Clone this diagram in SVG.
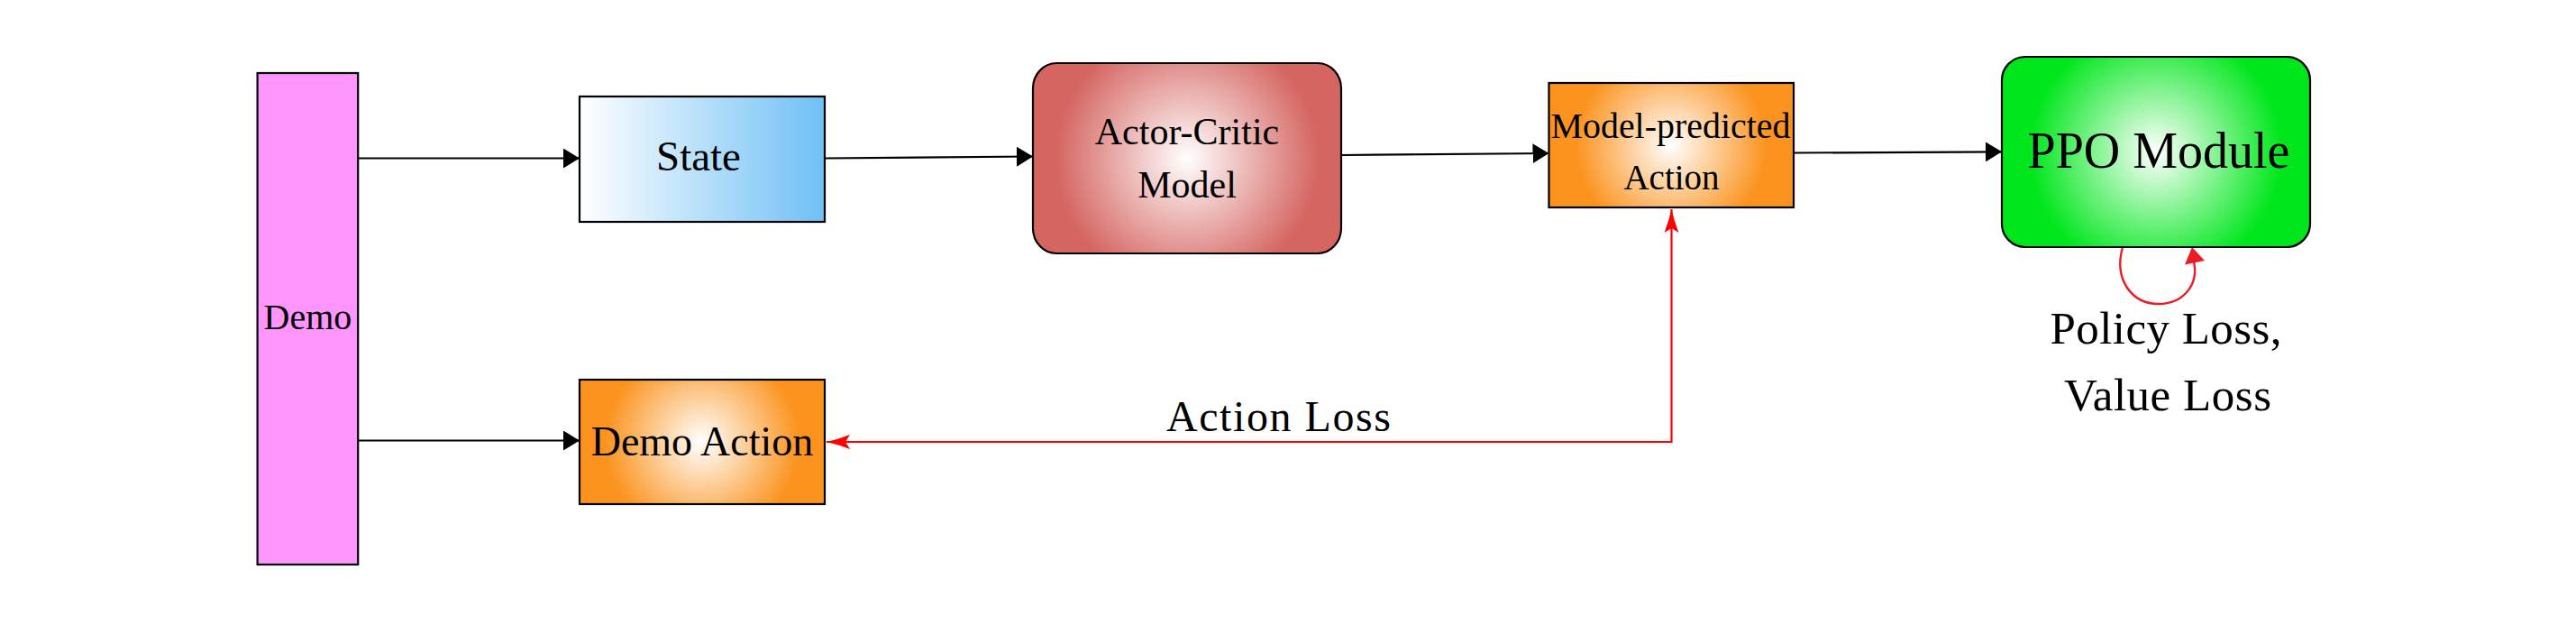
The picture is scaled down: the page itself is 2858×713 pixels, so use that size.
<svg xmlns="http://www.w3.org/2000/svg" width="2858" height="713" viewBox="0 0 2858 713">
<style>
text{font-family:"Liberation Serif","Times New Roman",serif;fill:#000;text-anchor:middle}
.box{stroke:#000;stroke-width:2.2}
.conn{fill:none;stroke:#000;stroke-width:2.2}
.red{fill:none;stroke:#ff0000;stroke-width:2.2}
.loop{fill:none;stroke:#ec1c24;stroke-width:2.4}
</style>
<defs>
<linearGradient id="gState" x1="0" y1="0" x2="1" y2="0">
<stop offset="0" stop-color="#ffffff"/>
<stop offset="1" stop-color="#6fc0f5"/>
</linearGradient>
<radialGradient id="gActor" gradientUnits="userSpaceOnUse" cx="1317" cy="175.5" r="146">
<stop offset="0" stop-color="#ffffff"/>
<stop offset="1" stop-color="#d56561"/>
</radialGradient>
<radialGradient id="gOrangeMP" gradientUnits="userSpaceOnUse" cx="1854" cy="161" r="106">
<stop offset="0" stop-color="#ffffff"/>
<stop offset="1" stop-color="#fb931e"/>
</radialGradient>
<radialGradient id="gOrangeDA" gradientUnits="userSpaceOnUse" cx="779" cy="490" r="108">
<stop offset="0" stop-color="#ffffff"/>
<stop offset="1" stop-color="#fb931e"/>
</radialGradient>
<radialGradient id="gGreen" gradientUnits="userSpaceOnUse" cx="2392" cy="168.5" r="140">
<stop offset="0" stop-color="#ffffff"/>
<stop offset="1" stop-color="#00e61c"/>
</radialGradient>
<marker id="ahBlack" viewBox="0 0 18 22" refX="18" refY="11" markerWidth="18" markerHeight="22" markerUnits="userSpaceOnUse" orient="auto">
<path d="M0,0 L18,11 L0,22 z" fill="#000"/>
</marker>
<marker id="ahRed" viewBox="0 0 26 16" refX="26" refY="8" markerWidth="26" markerHeight="16" markerUnits="userSpaceOnUse" orient="auto-start-reverse">
<path d="M26,8 Q13,5 0,0 L5,8 L0,16 Q13,11 26,8 z" fill="#ff0000"/>
</marker>
</defs>

<g id="connectors">
<path class="conn" d="M397,175.5 L643,175.5" marker-end="url(#ahBlack)"/>
<path class="conn" d="M397,488.5 L643,488.5" marker-end="url(#ahBlack)"/>
<path class="conn" d="M915,175.5 L1146,173.5" marker-end="url(#ahBlack)"/>
<path class="conn" d="M1488,172 L1718.5,170" marker-end="url(#ahBlack)"/>
<path class="conn" d="M1990,169.5 L2221,168.3" marker-end="url(#ahBlack)"/>
<path class="red" d="M1854.5,232 L1854.5,490 L917,490" marker-start="url(#ahRed)" marker-end="url(#ahRed)"/>
<text x="1418.5" y="478" font-size="48" textLength="249">Action Loss</text>
<path class="loop" d="M2355,274 C2345,310 2365,337 2395,337 C2420,337 2440,318 2434,290"/>
<polygon points="2432,274 2424,293.5 2446,289" fill="#ec1c24"/>
<text x="2403" y="381" font-size="51" textLength="257">Policy Loss,</text>
<text x="2405" y="455" font-size="51" textLength="230">Value Loss</text>
</g>

<g id="demo">
<rect class="box" x="285.6" y="81" width="111.6" height="545" fill="#ff96ff"/>
<text x="341.5" y="365" font-size="40">Demo</text>
</g>

<g id="state">
<rect class="box" x="643" y="107" width="272" height="139" fill="url(#gState)"/>
<text x="775" y="189" font-size="47">State</text>
</g>

<g id="actor-critic">
<rect class="box" x="1146" y="70" width="342" height="211" rx="26" ry="28" fill="url(#gActor)"/>
<text x="1317" y="160" font-size="42">Actor-Critic</text>
<text x="1317" y="219" font-size="42">Model</text>
</g>

<g id="model-predicted-action">
<rect class="box" x="1718.5" y="92" width="271.5" height="138" fill="url(#gOrangeMP)"/>
<text x="1853.5" y="152.5" font-size="39" textLength="266" lengthAdjust="spacingAndGlyphs">Model-predicted</text>
<text x="1854.5" y="210" font-size="39">Action</text>
</g>

<g id="ppo">
<rect class="box" x="2221" y="63" width="342" height="211" rx="26" fill="url(#gGreen)"/>
<text x="2395" y="186" font-size="56">PPO Module</text>
</g>

<g id="demo-action">
<rect class="box" x="643" y="421" width="272" height="138" fill="url(#gOrangeDA)"/>
<text x="779" y="505" font-size="46">Demo Action</text>
</g>
</svg>
